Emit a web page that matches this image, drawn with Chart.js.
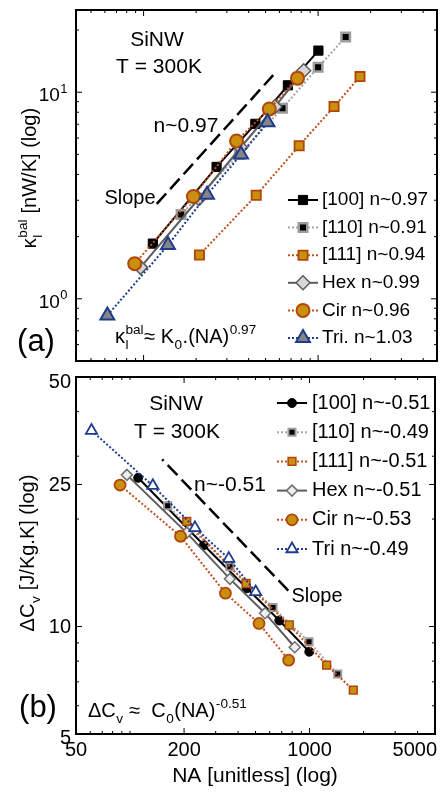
<!DOCTYPE html>
<html>
<head>
<meta charset="utf-8">
<script src="https://cdn.jsdelivr.net/npm/chart.js@4.4.1/dist/chart.umd.min.js"></script>
<style>
  html, body { margin: 0; padding: 0; background: #fff; }
  body { width: 447px; height: 801px; position: relative; overflow: hidden; }
  canvas { position: absolute; left: 0; }
  #cA { top: 0; }
  #cB { top: 350px; }
</style>
</head>
<body>
<canvas id="cA" width="447" height="372"></canvas>
<canvas id="cB" width="447" height="451"></canvas>
<script>
// ---- (a) ballistic thermal conductance vs NA ----
const naA100 = [113, 262, 437, 671, 1004];
const kA100  = [1.85, 4.35, 7.03, 10.8, 15.9];
const naA110 = [164, 354, 625, 1000, 1439];
const kA110  = [2.56, 5.0, 8.37, 13.2, 18.5];
const naA111 = [209, 442, 779, 1234, 1738];
const kA111  = [1.63, 3.17, 5.51, 8.52, 11.9];
const naAHex = [96, 207, 360, 565, 827];
const kAHex  = [1.42, 3.05, 5.4, 8.5, 12.7];
const naACir = [89, 193, 341, 525, 762];
const kACir  = [1.48, 3.13, 5.81, 8.30, 11.7];
const naATri = [62, 138, 231, 362, 513];
const kATri  = [0.83, 1.82, 3.19, 4.99, 7.16];
const slopeAx = [119, 553];
const slopeAy = [2.88, 12.1];

// ---- (b) delta Cv vs NA ----
const naB100 = [111, 258, 447, 679, 997];
const cB100  = [26.1, 16.9, 12.8, 10.4, 8.5];
const naB110 = [162, 360, 626, 993, 1435];
const cB110  = [21.8, 14.7, 11.3, 9.06, 7.36];
const naB111 = [207, 443, 771, 1246, 1753];
const cB111  = [19.7, 13.2, 10.1, 7.8, 6.64];
const naBHex = [96, 207, 360, 565, 827];
const cBHex  = [26.6, 18.3, 13.6, 10.9, 8.75];
const naBCir = [88, 191, 340, 523, 765];
const cBCir  = [24.9, 17.9, 12.4, 10.2, 8.05];
const naBTri = [61, 134, 230, 355, 501];
const cBTri  = [35.4, 24.8, 18.9, 15.5, 12.5];
const slopeBx = [151, 786];
const slopeBy = [29.4, 12.4];

// ticks
const tickAx = [100, 1000];
const tickAy = [1, 10];
const tickAyExp = ['0', '1'];
const tickBx = [50, 200, 1000, 5000];
const tickBy = [5, 10, 25, 50];

const legA = ['[100] n~0.97', '[110] n~0.91', '[111] n~0.94', 'Hex n~0.99', 'Cir n~0.96', 'Tri. n~1.03'];
const legB = ['[100] n~-0.51', '[110] n~-0.49', '[111] n~-0.51', 'Hex n~-0.51', 'Cir n~-0.53', 'Tri n~-0.49'];

const RUST = '#c2501c', GOLD = '#c8900e', RUSTEDGE = '#b0460a', NAVY = '#1f3c8c';
const FONT = '"Liberation Sans", Arial, Helvetica, sans-serif';
function f(size) { return size + 'px ' + FONT; }

function series(xs, ys, st, order) {
  return Object.assign({ data: xs.map((x, i) => ({ x: x, y: ys[i] })), tension: 0, fill: false, order: order }, st);
}

const dsA = [
  series(naA100, kA100, { borderColor: '#000', borderWidth: 2, pointStyle: 'rect', pointRadius: 6.5, pointBackgroundColor: '#000', pointBorderColor: '#000', pointBorderWidth: 1 }, 6),
  series(naA110, kA110, { borderColor: '#a6a6a6', borderWidth: 2, borderDash: [2, 2], pointStyle: 'rect', pointRadius: 6, pointBackgroundColor: '#000', pointBorderColor: '#9c9c9c', pointBorderWidth: 2.5 }, 5),
  series(naA111, kA111, { borderColor: RUST, borderWidth: 2, borderDash: [2, 2], pointStyle: 'rect', pointRadius: 6.5, pointBackgroundColor: GOLD, pointBorderColor: RUSTEDGE, pointBorderWidth: 1.8 }, 4),
  series(naAHex, kAHex, { borderColor: '#5c5c5c', borderWidth: 2, pointStyle: 'rectRot', pointRadius: 7, pointBackgroundColor: '#d6d6d6', pointBorderColor: '#5c5c5c', pointBorderWidth: 1.5 }, 3),
  series(naACir, kACir, { borderColor: RUST, borderWidth: 2, borderDash: [2, 2], pointStyle: 'circle', pointRadius: 6.5, pointBackgroundColor: GOLD, pointBorderColor: RUSTEDGE, pointBorderWidth: 2 }, 2),
  series(naATri, kATri, { borderColor: NAVY, borderWidth: 2, borderDash: [2, 2], pointStyle: 'triangle', pointRadius: 8, pointBackgroundColor: '#858585', pointBorderColor: NAVY, pointBorderWidth: 2 }, 1),
  series(slopeAx, slopeAy, { borderColor: '#000', borderWidth: 2.5, borderDash: [14, 6], pointRadius: 0 }, 0)
];

const dsB = [
  series(naB100, cB100, { borderColor: '#000', borderWidth: 2, pointStyle: 'circle', pointRadius: 4.5, pointBackgroundColor: '#000', pointBorderColor: '#000', pointBorderWidth: 1 }, 6),
  series(naB110, cB110, { borderColor: '#a6a6a6', borderWidth: 2, borderDash: [2, 2], pointStyle: 'rect', pointRadius: 5, pointBackgroundColor: '#000', pointBorderColor: '#9c9c9c', pointBorderWidth: 2 }, 5),
  series(naB111, cB111, { borderColor: RUST, borderWidth: 2, borderDash: [2, 2], pointStyle: 'rect', pointRadius: 5.5, pointBackgroundColor: GOLD, pointBorderColor: RUSTEDGE, pointBorderWidth: 1.5 }, 4),
  series(naBHex, cBHex, { borderColor: '#5c5c5c', borderWidth: 2, pointStyle: 'rectRot', pointRadius: 5.5, pointBackgroundColor: '#efefef', pointBorderColor: '#707070', pointBorderWidth: 1.5 }, 3),
  series(naBCir, cBCir, { borderColor: RUST, borderWidth: 2, borderDash: [2, 2], pointStyle: 'circle', pointRadius: 5.5, pointBackgroundColor: GOLD, pointBorderColor: RUSTEDGE, pointBorderWidth: 1.8 }, 2),
  series(naBTri, cBTri, { borderColor: NAVY, borderWidth: 2, borderDash: [2, 2], pointStyle: 'triangle', pointRadius: 6.5, pointBackgroundColor: '#fff', pointBorderColor: NAVY, pointBorderWidth: 1.8 }, 1),
  series(slopeBx, slopeBy, { borderColor: '#000', borderWidth: 2.5, borderDash: [14, 6], borderDashOffset: 12, pointRadius: 0 }, 0)
];

// ---- drawing helpers ----
function txt(ctx, s, x, y, size, align) {
  ctx.font = f(size); ctx.fillStyle = '#000';
  ctx.textAlign = align || 'center'; ctx.textBaseline = 'middle';
  ctx.fillText(s, x, y);
}
function richWidth(ctx, parts, size) {
  let w = 0;
  for (const p of parts) {
    if (p.t) { ctx.font = f(size); w += ctx.measureText(p.t).width; }
    else {
      ctx.font = f(size * 0.68);
      w += Math.max(p.sup ? ctx.measureText(p.sup).width : 0, p.sub ? ctx.measureText(p.sub).width : 0) + 1;
    }
  }
  return w;
}
function drawRich(ctx, parts, x, y, size, align) {
  const w = richWidth(ctx, parts, size);
  let cx = align === 'center' ? x - w / 2 : align === 'right' ? x - w : x;
  ctx.textAlign = 'left'; ctx.textBaseline = 'alphabetic'; ctx.fillStyle = '#000';
  for (const p of parts) {
    if (p.t) { ctx.font = f(size); ctx.fillText(p.t, cx, y); cx += ctx.measureText(p.t).width; }
    else {
      ctx.font = f(size * 0.68);
      let ww = 0;
      if (p.sup) { ctx.fillText(p.sup, cx + 0.5, y - size * 0.45); ww = ctx.measureText(p.sup).width; }
      if (p.sub) { ctx.fillText(p.sub, cx + 0.5, y + size * 0.3); ww = Math.max(ww, ctx.measureText(p.sub).width); }
      cx += ww + 1;
    }
  }
}
function minors(lo, hi, skip) {
  const out = [];
  for (let e = Math.floor(Math.log10(lo)); e <= Math.ceil(Math.log10(hi)); e++) {
    for (let m = 1; m < 10; m++) {
      const v = m * Math.pow(10, e);
      if (v > lo * 1.001 && v < hi * 0.999 && !skip.some(s => Math.abs(s - v) / v < 1e-6)) out.push(v);
    }
  }
  return out;
}
function frame(chart, majX, majY) {
  const ctx = chart.ctx, a = chart.chartArea, sx = chart.scales.x, sy = chart.scales.y;
  const minX = minors(sx.min, sx.max, majX), minY = minors(sy.min, sy.max, majY);
  ctx.save();
  ctx.strokeStyle = '#000'; ctx.lineWidth = 1;
  ctx.beginPath();
  const tx = (v, len) => { const p = sx.getPixelForValue(v); ctx.moveTo(p, a.bottom); ctx.lineTo(p, a.bottom - len); ctx.moveTo(p, a.top); ctx.lineTo(p, a.top + len); };
  const ty = (v, len) => { const p = sy.getPixelForValue(v); ctx.moveTo(a.left, p); ctx.lineTo(a.left + len, p); ctx.moveTo(a.right, p); ctx.lineTo(a.right - len, p); };
  majX.forEach(v => tx(v, 6)); minX.forEach(v => tx(v, 3));
  majY.forEach(v => ty(v, 6)); minY.forEach(v => ty(v, 3));
  ctx.stroke();
  ctx.lineWidth = 2;
  ctx.strokeRect(a.left, a.top, a.right - a.left, a.bottom - a.top);
  ctx.restore();
}
function marker(ctx, style, r, x, y, bw) {
  ctx.beginPath();
  if (style === 'circle') ctx.arc(x, y, r, 0, Math.PI * 2);
  else if (style === 'rect') { const s = r * Math.SQRT1_2; ctx.rect(x - s, y - s, 2 * s, 2 * s); }
  else if (style === 'rectRot') { ctx.moveTo(x - r, y); ctx.lineTo(x, y - r); ctx.lineTo(x + r, y); ctx.lineTo(x, y + r); ctx.closePath(); }
  else if (style === 'triangle') { ctx.moveTo(x, y - r); ctx.lineTo(x + r * 0.866, y + r * 0.5); ctx.lineTo(x - r * 0.866, y + r * 0.5); ctx.closePath(); }
  ctx.fill();
  if (bw > 0) ctx.stroke();
}
function legend(chart, labels, x0, x1, tx, y0, dy, size) {
  const ctx = chart.ctx;
  labels.forEach((lab, i) => {
    const ds = chart.data.datasets[i], y = y0 + i * dy;
    ctx.save();
    ctx.strokeStyle = ds.borderColor; ctx.lineWidth = ds.borderWidth; ctx.setLineDash(ds.borderDash || []);
    ctx.beginPath(); ctx.moveTo(x0, y); ctx.lineTo(x1, y); ctx.stroke();
    ctx.setLineDash([]);
    ctx.fillStyle = ds.pointBackgroundColor; ctx.strokeStyle = ds.pointBorderColor; ctx.lineWidth = ds.pointBorderWidth;
    marker(ctx, ds.pointStyle, ds.pointRadius, (x0 + x1) / 2, y, ds.pointBorderWidth);
    ctx.restore();
    txt(ctx, lab, tx, y, size, 'left');
  });
}

// ---- decorations ----
function decoA(chart) {
  const ctx = chart.ctx, sy = chart.scales.y;
  frame(chart, tickAx, tickAy);
  ctx.save();
  tickAy.forEach((v, i) => {
    drawRich(ctx, [{ t: '10' }, { sup: tickAyExp[i] }], 68, sy.getPixelForValue(v) + 9, 19, 'right');
  });
  txt(ctx, 'SiNW', 157, 40, 21);
  txt(ctx, 'T = 300K', 159, 67, 21);
  txt(ctx, 'n~0.97', 186, 126, 21);
  txt(ctx, 'Slope', 130, 198, 20);
  txt(ctx, '(a)', 36, 342, 31);
  drawRich(ctx, [{ t: 'κ' }, { sup: 'bal', sub: 'l' }, { t: '≈ K' }, { sub: '0' }, { t: '.(NA)' }, { sup: '0.97' }], 115, 343, 20, 'left');
  ctx.save();
  ctx.translate(36, 178); ctx.rotate(-Math.PI / 2);
  drawRich(ctx, [{ t: 'κ' }, { sup: 'bal', sub: 'l' }, { t: ' [nW/K] (log)' }], 0, 0, 20, 'center');
  ctx.restore();
  legend(chart, legA, 288, 318, 322, 200, 27.6, 19);
  ctx.restore();
}

function decoB(chart) {
  const ctx = chart.ctx, sx = chart.scales.x, sy = chart.scales.y;
  frame(chart, tickBx, tickBy);
  ctx.save();
  // tick labels (canvas coords)
  tickBy.forEach(v => {
    let p = sy.getPixelForValue(v) + 1;
    if (v === 50) p += 4;
    if (v === 5) p += 3;
    txt(ctx, String(v), 71, p, 20, 'right');
  });
  tickBx.forEach(v => {
    const p = sx.getPixelForValue(v);
    if (v === 5000) txt(ctx, String(v), 437, 400, 20, 'right');
    else txt(ctx, String(v), p, 400, 20, 'center');
  });
  ctx.translate(0, -350); // page coordinates from here
  txt(ctx, 'SiNW', 176, 404, 21);
  txt(ctx, 'T = 300K', 177, 432, 21);
  txt(ctx, 'n~-0.51', 230, 485, 21);
  txt(ctx, 'Slope', 317, 596, 20);
  txt(ctx, '(b)', 38, 708, 31);
  drawRich(ctx, [{ t: 'ΔC' }, { sub: 'v' }, { t: ' ≈  C' }, { sub: '0' }, { t: '(NA)' }, { sup: '-0.51' }], 88, 717, 20, 'left');
  txt(ctx, 'NA [unitless] (log)', 255, 776, 21);
  ctx.save();
  ctx.translate(34, 553); ctx.rotate(-Math.PI / 2);
  drawRich(ctx, [{ t: 'ΔC' }, { sub: 'v' }, { t: ' [J/Kg.K] (log)' }], 0, 0, 20, 'center');
  ctx.restore();
  ctx.restore();
  ctx.save();
  ctx.translate(0, -350);
  legend(chart, legB, 277, 307, 312, 403, 29.2, 20);
  ctx.restore();
}

function makeChart(id, datasets, xr, yr, pad, deco) {
  return new Chart(document.getElementById(id), {
    type: 'line',
    data: { datasets: datasets },
    options: {
      responsive: false,
      animation: false,
      events: [],
      layout: { padding: pad },
      plugins: { legend: { display: false }, tooltip: { enabled: false } },
      scales: {
        x: { type: 'logarithmic', min: xr[0], max: xr[1], display: false },
        y: { type: 'logarithmic', min: yr[0], max: yr[1], display: false }
      }
    },
    plugins: [{ id: 'deco', afterDraw: deco }]
  });
}

makeChart('cA', dsA, [41, 4800], [0.5, 25], { left: 76, top: 3, right: 9, bottom: 11 }, decoA);
makeChart('cB', dsB, [50, 5000], [5, 50], { left: 76, top: 27, right: 12, bottom: 67 }, decoB);
</script>
</body>
</html>
